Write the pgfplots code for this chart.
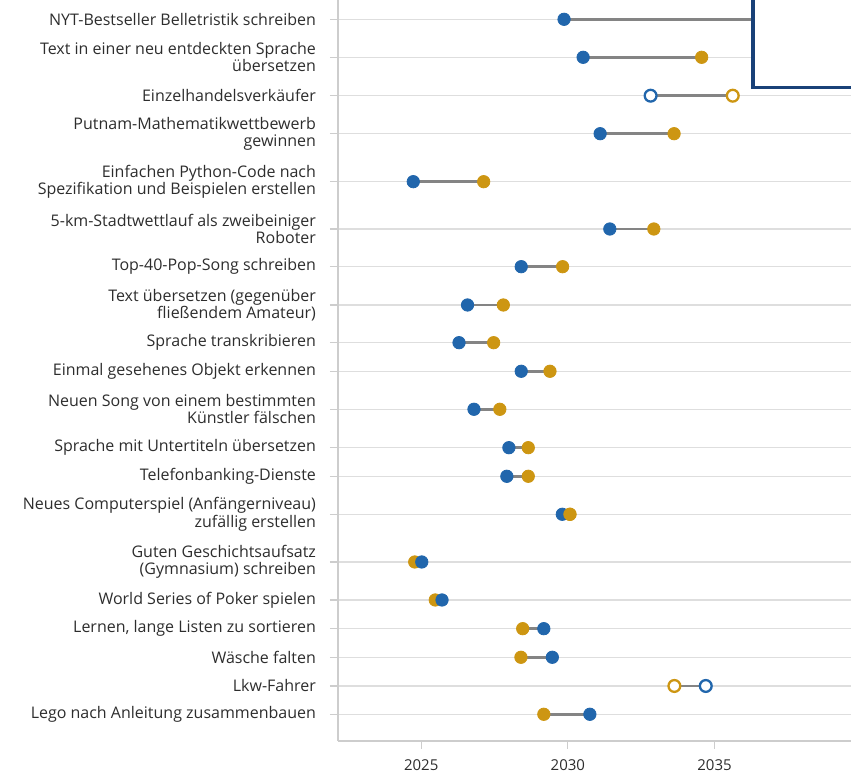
\documentclass[border=0pt]{standalone}
\usepackage{pgfplots}
\pgfplotsset{compat=1.18}
\usepackage{pgfplotstable}
\usepackage{fontspec}
\setmainfont{Open Sans}
\definecolor{cblue}{RGB}{33,102,172}
\definecolor{cgold}{RGB}{205,150,18}
\definecolor{cnavy}{RGB}{25,65,120}
\definecolor{cgrid}{RGB}{222,222,222}
\definecolor{caxis}{RGB}{205,205,205}
\definecolor{cconn}{RGB}{132,132,132}
\definecolor{ctext}{RGB}{45,45,45}

% y = row position (layout), b = blue series, g = gold series (years)
\pgfplotstableread{
y b g
-19.3 2029.87 2038.00
-57.3 2030.52 2034.56
-133.7 2031.10 2033.62
-181.7 2024.73 2027.13
-229.0 2031.43 2032.93
-266.7 2028.41 2029.82
-305.0 2026.58 2027.80
-342.7 2026.29 2027.47
-371.3 2028.41 2029.39
-409.3 2026.80 2027.68
-447.7 2027.99 2028.65
-476.3 2027.92 2028.65
-514.3 2029.81 2030.07
-562.0 2025.02 2024.78
-600.0 2025.71 2025.48
-628.7 2029.18 2028.46
-657.3 2029.47 2028.40
-714.3 2030.75 2029.18
}\filled
\pgfplotstableread{
y b g
-95.7 2032.82 2035.62
-686.0 2034.70 2033.63
}\opendots

\begin{document}
\begin{tikzpicture}
\begin{axis}[
  x=14.67pt, y=0.5pt,
  xmin=2022.164, xmax=2041, ymin=-741, ymax=30,
  axis x line=bottom, axis y line=left,
  axis line style={caxis, line width=0.6pt, -},
  tick align=outside,
  major tick length=4pt,
  tick style={caxis, line width=0.6pt},
  xtick={2025,2030,2035},
  /pgf/number format/assume math mode=true,
  /pgf/number format/1000 sep={},
  xticklabel style={font=\fontsize{7.5}{9}\selectfont, text=ctext, yshift=-2pt},
  ytick={-19.3,-57.3,-95.7,-133.7,-181.7,-229.0,-266.7,-305.0,-342.7,-371.3,-409.3,-447.7,-476.3,-514.3,-562.0,-600.0,-628.7,-657.3,-686.0,-714.3},
  yticklabels={
    {NYT-Bestseller Belletristik schreiben},
    {Text in einer neu entdeckten Sprache\\übersetzen},
    {Einzelhandelsverkäufer},
    {Putnam-Mathematikwettbewerb\\gewinnen},
    {Einfachen Python-Code nach\\Spezifikation und Beispielen erstellen},
    {5-km-Stadtwettlauf als zweibeiniger\\Roboter},
    {Top-40-Pop-Song schreiben},
    {Text übersetzen (gegenüber\\fließendem Amateur)},
    {Sprache transkribieren},
    {Einmal gesehenes Objekt erkennen},
    {Neuen Song von einem bestimmten\\Künstler fälschen},
    {Sprache mit Untertiteln übersetzen},
    {Telefonbanking-Dienste},
    {Neues Computerspiel (Anfängerniveau)\\zufällig erstellen},
    {Guten Geschichtsaufsatz\\(Gymnasium) schreiben},
    {World Series of Poker spielen},
    {Lernen, lange Listen zu sortieren},
    {Wäsche falten},
    {Lkw-Fahrer},
    {Lego nach Anleitung zusammenbauen}},
  yticklabel style={align=right, font=\fontsize{8}{8.6}\selectfont, text=ctext, xshift=-3.5pt},
  ymajorgrids,
  grid style={cgrid, line width=0.7pt},
  clip=false,
]
% connectors
\addplot[only marks, mark=none, error bars/.cd, x dir=plus, x explicit, error mark=none,
  error bar style={draw=cconn, line width=1.3pt, solid}]
  table[x=b, y=y, x error expr=\thisrow{g}-\thisrow{b}] {\filled};
\addplot[only marks, mark=none, error bars/.cd, x dir=plus, x explicit, error mark=none,
  error bar style={draw=cconn, line width=1.3pt, solid}]
  table[x=b, y=y, x error expr=\thisrow{g}-\thisrow{b}] {\opendots};
% filled dots
\addplot[only marks, color=cgold, mark=*, mark size=3.1pt, mark options={draw=cgold, fill=cgold, line width=0.4pt}]
  table[x=g, y=y] {\filled};
\addplot[only marks, color=cblue, mark=*, mark size=3.1pt, mark options={draw=cblue, fill=cblue, line width=0.4pt}]
  table[x=b, y=y] {\filled};
\addplot[only marks, color=cgold, mark=*, mark size=3.1pt, mark options={draw=cgold, fill=cgold, line width=0.4pt},
  restrict expr to domain={\thisrow{y}}{-515:-514}]
  table[x=g, y=y] {\filled};
% open dots
\addplot[only marks, color=cgold, mark=*, mark size=2.95pt, mark options={draw=cgold, fill=white, line width=1.15pt}]
  table[x=g, y=y] {\opendots};
\addplot[only marks, color=cblue, mark=*, mark size=2.95pt, mark options={draw=cblue, fill=white, line width=1.15pt}]
  table[x=b, y=y] {\opendots};
\coordinate (boxBL) at (axis cs:2036.31,-87.3);
\coordinate (boxTR) at (axis cs:2042.5,40);
\coordinate (cropBL) at (axis cs:2010.644,-773);
\coordinate (cropTR) at (axis cs:2039.65,0);
\end{axis}
% legend frame (cropped in the reference)
\draw[cnavy, line width=1.65pt, fill=white] (boxBL) rectangle (boxTR);
\pgfresetboundingbox
\useasboundingbox (cropBL) rectangle (cropTR);
\end{tikzpicture}
\end{document}
